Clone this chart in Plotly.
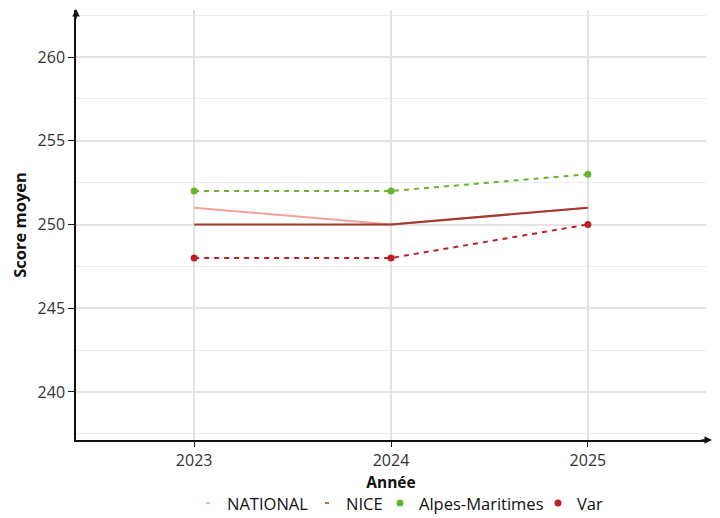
import plotly.graph_objects as go

years = [2023, 2024, 2025]
national = [251, 250, 251]
nice = [250, 250, 251]
alpes_maritimes = [252, 252, 253]
var = [248, 248, 250]

series_names = ["NATIONAL", "NICE", "Alpes-Maritimes", "Var"]
y_ticks = [240, 245, 250, 255, 260]

C_NAT = "#f4a29d"
C_NICE = "#a3392f"
C_AM = "#6ab42d"
C_VAR = "#bb2228"

FONT = "Open Sans"

# plot area in page pixels (body has an 8px margin)
PX0, PX1, PY0, PY1 = 76, 706, 10, 440


def px(x):
    return (x - PX0) / (PX1 - PX0)


def py(y):
    return (PY1 - y) / (PY1 - PY0)


fig = go.Figure()

fig.add_trace(go.Scatter(x=years, y=national, mode="lines", name=series_names[0],
                         line=dict(color=C_NAT, width=2)))
fig.add_trace(go.Scatter(x=years, y=nice, mode="lines", name=series_names[1],
                         line=dict(color=C_NICE, width=2)))
fig.add_trace(go.Scatter(x=years, y=alpes_maritimes, mode="lines+markers", name=series_names[2],
                         line=dict(color=C_AM, width=2, dash="5px,5px"),
                         marker=dict(color=C_AM, size=7)))
fig.add_trace(go.Scatter(x=years, y=var, mode="lines+markers", name=series_names[3],
                         line=dict(color=C_VAR, width=2, dash="5px,5px"),
                         marker=dict(color=C_VAR, size=7)))

fig.update_layout(
    width=712, height=510,
    margin=dict(l=68, r=14, t=2, b=78, autoexpand=False),
    plot_bgcolor="white", paper_bgcolor="white",
    font=dict(family=FONT, size=15, color="#222222"),
    showlegend=False,
    xaxis=dict(
        range=[2022.4, 2025.6], tickvals=years, ticktext=[str(y) for y in years],
        showgrid=True, gridcolor="#e3e3e3", gridwidth=1.5,
        showline=True, linecolor="#111111", linewidth=1.5,
        ticks="outside", ticklen=5, tickcolor="#111111", tickwidth=1,
        tickfont=dict(size=16, color="#333333"),
        title=dict(text="<b>Année</b>", font=dict(size=15.5, color="#111111"), standoff=2),
        zeroline=False, automargin=False,
    ),
    yaxis=dict(
        range=[237.13, 262.81], tickvals=y_ticks,
        showgrid=True, gridcolor="#e3e3e3", gridwidth=1.5,
        minor=dict(dtick=5, tick0=237.5, showgrid=True, gridcolor="#ececec", gridwidth=1),
        showline=True, linecolor="#111111", linewidth=1.5,
        ticks="outside", ticklen=6, tickcolor="#111111", tickwidth=1,
        tickfont=dict(size=16, color="#333333"),
        title=dict(text="<b>Score moyen</b>", font=dict(size=16.5, color="#111111"), standoff=8),
        zeroline=False, automargin=False,
    ),
)

# axis arrowheads
fig.add_annotation(xref="paper", yref="paper", x=0, y=1.004, ax=0, ay=12,
                   showarrow=True, arrowhead=2, arrowsize=1, arrowwidth=1.5,
                   arrowcolor="#111111", text="")
fig.add_annotation(xref="paper", yref="paper", x=1.0095, y=0, ax=-12, ay=0,
                   showarrow=True, arrowhead=2, arrowsize=1, arrowwidth=1.5,
                   arrowcolor="#111111", text="")

# compact legend (symbols + labels) drawn below the axis title
LEG_Y = 503
leg_items = [
    (series_names[0], C_NAT, "line", 208, 225),
    (series_names[1], C_NICE, "line", 327, 344),
    (series_names[2], C_AM, "dot", 400, 417),
    (series_names[3], C_VAR, "dot", 558, 575),
]
for name, col, kind, sx, tx in leg_items:
    if kind == "line":
        fig.add_shape(type="line", xref="paper", yref="paper",
                      xsizemode="pixel", ysizemode="pixel",
                      xanchor=px(sx), yanchor=py(LEG_Y),
                      x0=-2, x1=2, y0=0, y1=0,
                      line=dict(color=col, width=1.5))
    else:
        fig.add_shape(type="circle", xref="paper", yref="paper",
                      xsizemode="pixel", ysizemode="pixel",
                      xanchor=px(sx), yanchor=py(LEG_Y),
                      x0=-3.5, x1=3.5, y0=-3.5, y1=3.5,
                      fillcolor=col, line=dict(width=0))
    fig.add_annotation(xref="paper", yref="paper", x=px(tx), y=py(LEG_Y),
                       xanchor="left", yanchor="middle", showarrow=False,
                       text=name, font=dict(size=16.5, color="#111111", family=FONT))

fig.write_html("out.html")
